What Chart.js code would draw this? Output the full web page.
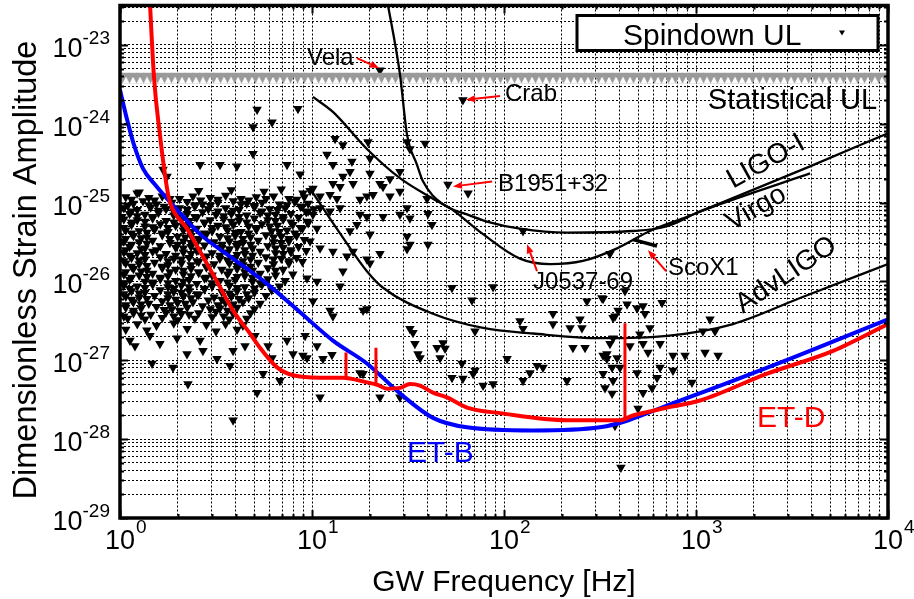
<!DOCTYPE html>
<html>
<head>
<meta charset="utf-8">
<script src="https://cdn.jsdelivr.net/npm/chart.js@4/dist/chart.umd.min.js"></script>
<style>
  html, body { margin: 0; background: #fff; }
</style>
</head>
<body>
<canvas id="chart" width="914" height="599"></canvas>
<script>
  // axis decades (log10) and the minor steps inside each decade
  const xDecades = [0, 1, 2, 3, 4]
  const yDecades = [-29, -28, -27, -26, -25, -24, -23]
  const minorSteps = [1, 2, 3, 4, 5, 6, 7, 8, 9]
  const xMin = 1, xMax = 1e4
  const yMin = 1e-29, yMax = 3.16e-23

  // curves as log10(f [Hz]) and log10(h)
  const etdLogF = [0.148, 0.177, 0.208, 0.245, 0.260, 0.349, 0.417, 0.505, 0.589, 0.677, 0.729, 0.818, 0.901, 1.042, 1.161, 1.286, 1.339, 1.391, 1.458, 1.510, 1.563, 1.630, 1.703, 1.807, 1.979, 2.328, 2.604, 2.672, 2.849, 3.021, 3.370, 3.714, 4.0]
  const etdLogH = [-22.08, -23.41, -24.14, -24.82, -24.99, -25.33, -25.62, -26.00, -26.37, -26.66, -26.84, -27.09, -27.19, -27.22, -27.22, -27.28, -27.31, -27.36, -27.35, -27.30, -27.32, -27.41, -27.47, -27.60, -27.67, -27.76, -27.76, -27.70, -27.60, -27.51, -27.17, -26.88, -26.54]
  const spikeLogF = [1.177, 1.333, 2.630]
  const spikeBaseLogH = [-27.22, -27.30, -27.76]
  const spikeTopLogH = [-26.90, -26.84, -26.53]

  const etbLogF = [0.0, 0.036, 0.068, 0.120, 0.182, 0.260, 0.417, 0.589, 0.766, 0.938, 1.109, 1.286, 1.458, 1.630, 1.807, 2.151, 2.500, 2.917, 3.438, 4.0]
  const etbLogH = [-23.57, -23.94, -24.23, -24.57, -24.77, -24.99, -25.40, -25.71, -26.03, -26.39, -26.75, -27.04, -27.42, -27.73, -27.85, -27.89, -27.85, -27.51, -27.03, -26.48]

  const ligoLogF = [1.390, 1.458, 1.495, 1.547, 1.578, 1.682, 1.807, 1.911, 2.083, 2.328, 2.672, 2.849, 3.021, 3.125, 3.594, 4.0]
  const ligoLogH = [-22.42, -23.37, -24.14, -24.52, -24.73, -25.02, -25.15, -25.24, -25.33, -25.38, -25.36, -25.30, -25.11, -25.01, -24.54, -24.12]

  const virgoLogF = [1.005, 1.109, 1.286, 1.458, 1.630, 1.719, 1.891, 2.083, 2.240, 2.411, 2.589, 2.760, 2.932, 3.125, 3.594]
  const virgoLogH = [-23.66, -23.85, -24.32, -24.69, -24.95, -25.07, -25.40, -25.71, -25.78, -25.74, -25.58, -25.36, -25.20, -25.02, -24.63]

  const advLogF = [1.0, 1.146, 1.286, 1.370, 1.630, 1.891, 2.151, 2.500, 2.849, 3.193, 3.542, 4.0]
  const advLogH = [-24.86, -25.39, -25.87, -26.08, -26.41, -26.59, -26.66, -26.72, -26.69, -26.54, -26.21, -25.78]

  const scoLogF = [2.672, 2.797]
  const scoLogH = [-25.47, -25.55]

  const statUL = 3.8e-24

  // spindown upper limits [log10 f, log10 h]
  const spinPts = [
    // dense cluster, 1-10 Hz
    [0.10, -24.87], [0.41, -24.85], [0.58, -24.84], [0.75, -24.86], [0.84, -24.83], [0.99, -24.85],
    [0.03, -24.93], [0.15, -24.94], [0.22, -24.92], [0.31, -24.95], [0.38, -24.92], [0.47, -24.94], [0.55, -24.91], [0.63, -24.95], [0.71, -24.93], [0.80, -24.92], [0.88, -24.95], [0.96, -24.93],
    [0.07, -25.01], [0.12, -24.98], [0.19, -25.02], [0.27, -25.00], [0.35, -24.99], [0.43, -25.02], [0.51, -25.00], [0.59, -24.98], [0.66, -25.01], [0.74, -25.00], [0.83, -25.02], [0.91, -24.99], [0.98, -25.01],
    [0.02, -25.07], [0.09, -25.09], [0.16, -25.06], [0.24, -25.08], [0.31, -25.07], [0.39, -25.05], [0.46, -25.08], [0.55, -25.07], [0.62, -25.09], [0.70, -25.06], [0.78, -25.08], [0.86, -25.07], [0.94, -25.05], [1.01, -25.08],
    [0.05, -25.14], [0.13, -25.15], [0.20, -25.13], [0.28, -25.16], [0.35, -25.14], [0.43, -25.12], [0.50, -25.15], [0.58, -25.14], [0.66, -25.16], [0.73, -25.13], [0.81, -25.15], [0.89, -25.14], [0.97, -25.12],
    [0.02, -25.21], [0.09, -25.22], [0.17, -25.20], [0.24, -25.23], [0.32, -25.21], [0.40, -25.19], [0.47, -25.22], [0.54, -25.21], [0.62, -25.23], [0.70, -25.20], [0.77, -25.22], [0.85, -25.21], [0.93, -25.19],
    [0.06, -25.28], [0.13, -25.30], [0.21, -25.27], [0.29, -25.29], [0.36, -25.28], [0.44, -25.26], [0.51, -25.29], [0.59, -25.28], [0.67, -25.30], [0.74, -25.27], [0.82, -25.29], [0.90, -25.28], [0.98, -25.26],
    [0.03, -25.35], [0.10, -25.36], [0.18, -25.34], [0.25, -25.37], [0.33, -25.35], [0.40, -25.33], [0.48, -25.36], [0.56, -25.35], [0.63, -25.37], [0.71, -25.34], [0.79, -25.36], [0.87, -25.35], [0.95, -25.33],
    [0.07, -25.42], [0.14, -25.44], [0.22, -25.41], [0.30, -25.43], [0.37, -25.42], [0.45, -25.40], [0.52, -25.43], [0.60, -25.42], [0.68, -25.44], [0.76, -25.41], [0.84, -25.43], [0.92, -25.42],
    [0.02, -25.49], [0.10, -25.50], [0.17, -25.48], [0.26, -25.51], [0.33, -25.49], [0.41, -25.47], [0.49, -25.50], [0.57, -25.49], [0.64, -25.51], [0.72, -25.48], [0.80, -25.50], [0.88, -25.49], [0.96, -25.47],
    [0.05, -25.56], [0.13, -25.58], [0.21, -25.55], [0.29, -25.57], [0.37, -25.56], [0.44, -25.54], [0.53, -25.57], [0.61, -25.56], [0.69, -25.58], [0.77, -25.55], [0.85, -25.57], [0.93, -25.56],
    [0.02, -25.63], [0.09, -25.64], [0.17, -25.62], [0.24, -25.65], [0.33, -25.63], [0.40, -25.61], [0.48, -25.64], [0.56, -25.63], [0.65, -25.65], [0.73, -25.62], [0.81, -25.64], [0.89, -25.63], [0.97, -25.61],
    [0.06, -25.70], [0.13, -25.72], [0.21, -25.69], [0.28, -25.71], [0.36, -25.70], [0.45, -25.68], [0.52, -25.71], [0.60, -25.70], [0.68, -25.72], [0.76, -25.69], [0.84, -25.71], [0.92, -25.70],
    [0.03, -25.77], [0.10, -25.78], [0.18, -25.76], [0.25, -25.79], [0.32, -25.77], [0.41, -25.75], [0.49, -25.78], [0.57, -25.77], [0.64, -25.79], [0.72, -25.76], [0.80, -25.78], [0.88, -25.77], [0.95, -25.75],
    [0.07, -25.84], [0.14, -25.86], [0.22, -25.83], [0.29, -25.85], [0.37, -25.84], [0.45, -25.82], [0.53, -25.85], [0.61, -25.84], [0.69, -25.86], [0.77, -25.83], [0.85, -25.85],
    [0.02, -25.91], [0.10, -25.92], [0.17, -25.90], [0.25, -25.93], [0.33, -25.91], [0.41, -25.89], [0.48, -25.92], [0.56, -25.91], [0.65, -25.93], [0.73, -25.90], [0.81, -25.92], [0.90, -25.91],
    [0.05, -25.98], [0.13, -26.00], [0.21, -25.97], [0.29, -25.99], [0.36, -25.98], [0.44, -25.96], [0.52, -25.99], [0.60, -25.98], [0.69, -26.00], [0.77, -25.97], [0.86, -25.99],
    [0.02, -26.05], [0.09, -26.06], [0.17, -26.04], [0.25, -26.07], [0.32, -26.05], [0.40, -26.03], [0.48, -26.06], [0.57, -26.05], [0.65, -26.07], [0.74, -26.04], [0.83, -26.06],
    [0.06, -26.12], [0.13, -26.14], [0.21, -26.11], [0.28, -26.13], [0.36, -26.12], [0.44, -26.10], [0.53, -26.13], [0.61, -26.12], [0.70, -26.14], [0.79, -26.11],
    [0.03, -26.19], [0.10, -26.20], [0.18, -26.18], [0.25, -26.21], [0.33, -26.19], [0.41, -26.17], [0.49, -26.20], [0.58, -26.19], [0.67, -26.21], [0.76, -26.18],
    [0.07, -26.26], [0.15, -26.28], [0.22, -26.25], [0.30, -26.27], [0.38, -26.26], [0.46, -26.24], [0.55, -26.27], [0.64, -26.26], [0.73, -26.28],
    [0.03, -26.33], [0.11, -26.34], [0.19, -26.32], [0.27, -26.35], [0.35, -26.33], [0.43, -26.31], [0.52, -26.34], [0.61, -26.33], [0.70, -26.35],
    [0.07, -26.40], [0.16, -26.42], [0.24, -26.39], [0.32, -26.41], [0.41, -26.40], [0.50, -26.38], [0.59, -26.41], [0.68, -26.40],
    [0.04, -26.47], [0.13, -26.48], [0.22, -26.46], [0.30, -26.49], [0.39, -26.47], [0.48, -26.45], [0.57, -26.48], [0.66, -26.47],
    [0.09, -26.54], [0.19, -26.56], [0.28, -26.53], [0.45, -26.55], [0.55, -26.54], [0.64, -26.56],
    [0.03, -26.61], [0.14, -26.62], [0.35, -26.60], [0.50, -26.63], [0.61, -26.61],
    // cluster, in-between points
    [0.06, -24.96], [0.18, -24.97], [0.26, -24.95], [0.42, -24.97], [0.51, -24.96], [0.67, -24.97], [0.76, -24.95], [0.92, -24.96],
    [0.04, -25.04], [0.15, -25.03], [0.23, -25.05], [0.39, -25.03], [0.47, -25.04], [0.63, -25.02], [0.70, -25.04], [0.87, -25.03], [0.95, -25.05],
    [0.06, -25.11], [0.20, -25.10], [0.28, -25.11], [0.35, -25.09], [0.51, -25.11], [0.59, -25.10], [0.74, -25.11], [0.82, -25.09], [0.98, -25.11],
    [0.01, -25.18], [0.09, -25.17], [0.17, -25.18], [0.31, -25.16], [0.39, -25.18], [0.54, -25.17], [0.62, -25.18], [0.77, -25.16], [0.85, -25.18],
    [0.06, -25.25], [0.13, -25.24], [0.28, -25.25], [0.36, -25.23], [0.44, -25.25], [0.58, -25.24], [0.66, -25.25], [0.81, -25.23], [0.89, -25.25],
    [0.02, -25.32], [0.17, -25.31], [0.25, -25.32], [0.33, -25.30], [0.48, -25.32], [0.55, -25.31], [0.71, -25.32], [0.78, -25.30], [0.94, -25.32],
    [0.06, -25.39], [0.14, -25.38], [0.22, -25.39], [0.37, -25.37], [0.44, -25.39], [0.60, -25.38], [0.67, -25.39], [0.83, -25.37], [0.91, -25.39],
    [0.03, -25.46], [0.11, -25.45], [0.26, -25.46], [0.34, -25.44], [0.41, -25.46], [0.56, -25.45], [0.64, -25.46], [0.80, -25.44], [0.88, -25.46],
    [0.06, -25.53], [0.14, -25.52], [0.30, -25.53], [0.37, -25.51], [0.53, -25.53], [0.61, -25.52], [0.68, -25.53], [0.84, -25.51],
    [0.03, -25.60], [0.11, -25.59], [0.19, -25.60], [0.33, -25.58], [0.41, -25.60], [0.57, -25.59], [0.65, -25.60], [0.81, -25.58], [0.89, -25.60],
    [0.05, -25.67], [0.13, -25.66], [0.29, -25.67], [0.37, -25.65], [0.52, -25.67], [0.61, -25.66], [0.69, -25.67], [0.85, -25.65],
    [0.02, -25.74], [0.10, -25.73], [0.25, -25.74], [0.32, -25.72], [0.40, -25.74], [0.56, -25.73], [0.64, -25.74], [0.80, -25.72], [0.88, -25.74],
    [0.06, -25.81], [0.14, -25.80], [0.22, -25.81], [0.37, -25.79], [0.45, -25.81], [0.61, -25.80], [0.68, -25.81],
    [0.03, -25.88], [0.11, -25.87], [0.26, -25.88], [0.33, -25.86], [0.41, -25.88], [0.57, -25.87], [0.65, -25.88], [0.81, -25.86],
    [0.06, -25.95], [0.14, -25.94], [0.21, -25.95], [0.37, -25.93], [0.45, -25.95], [0.61, -25.94], [0.69, -25.95],
    [0.02, -26.02], [0.17, -26.01], [0.25, -26.02], [0.33, -26.00], [0.48, -26.02], [0.56, -26.01], [0.73, -26.02],
    [0.05, -26.09], [0.13, -26.08], [0.28, -26.09], [0.36, -26.07], [0.44, -26.09], [0.61, -26.08], [0.70, -26.09],
    [0.02, -26.16], [0.10, -26.15], [0.25, -26.16], [0.32, -26.14], [0.40, -26.16], [0.57, -26.15], [0.66, -26.16],
    [0.06, -26.23], [0.14, -26.22], [0.29, -26.23], [0.37, -26.21], [0.53, -26.23], [0.62, -26.22],
    [0.03, -26.30], [0.11, -26.29], [0.26, -26.30], [0.34, -26.28], [0.51, -26.30], [0.59, -26.29],
    [0.07, -26.37], [0.23, -26.36], [0.31, -26.37], [0.47, -26.35], [0.56, -26.37],
    [0.02, -26.44], [0.11, -26.43], [0.28, -26.44], [0.36, -26.42], [0.54, -26.44],
    // below the cluster
    [0.078, -26.82], [0.167, -27.04], [0.276, -27.09], [0.354, -27.30], [0.714, -27.41], [0.505, -26.98], [0.589, -26.88], [0.792, -26.97],
    [0.901, -26.92], [0.870, -26.75], [1.026, -26.82], [0.745, -27.17], [0.432, -26.88], [0.349, -26.92], [0.208, -26.79], [0.297, -26.72],
    [0.052, -26.75], [0.156, -26.69], [0.417, -26.75], [0.651, -26.82], [0.573, -27.07], [0.833, -27.26], [0.703, -26.69], [0.771, -26.82],
    [0.589, -27.76],
    // above the cluster
    [1.354, -23.32], [1.786, -23.70], [1.708, -24.77], [2.099, -25.36],
    [0.714, -23.82], [0.693, -24.04], [0.792, -23.98], [0.927, -23.81], [0.693, -24.38], [0.417, -24.52], [0.521, -24.52], [0.609, -24.54],
    [0.870, -24.52], [0.938, -24.64], [0.089, -24.88], [0.224, -24.58], [0.245, -24.67],
    // 10-100 Hz
    [1.120, -24.19], [1.161, -24.27], [1.292, -24.23], [1.495, -24.23], [1.589, -24.25], [1.510, -24.32], [1.078, -24.39], [1.208, -24.48],
    [1.302, -24.44], [1.109, -24.52], [1.198, -24.61], [1.161, -24.67], [1.302, -24.63], [1.458, -24.61], [1.406, -24.70], [1.813, -24.88],
    [0.953, -24.88], [1.005, -24.82], [1.109, -24.76], [1.146, -24.80], [1.214, -24.76], [1.354, -24.76], [1.370, -24.80], [1.318, -24.90],
    [1.286, -24.92], [1.458, -24.86], [1.599, -24.95], [1.250, -24.96], [1.406, -24.92], [1.042, -24.92], [1.094, -24.90], [1.130, -24.95],
    [1.146, -25.07], [1.042, -25.07], [1.286, -25.18], [1.370, -25.18], [1.458, -25.15], [1.495, -25.07], [1.604, -25.14], [1.625, -25.28],
    [1.510, -25.20], [1.198, -25.36], [1.234, -25.28], [1.302, -25.40], [1.495, -25.43], [1.510, -25.53], [1.604, -25.53], [1.495, -25.59],
    [1.354, -25.65], [1.286, -25.72], [1.302, -25.77], [1.182, -25.68], [1.214, -25.62], [1.109, -25.62], [1.042, -25.58], [0.990, -25.49],
    [1.026, -25.33], [0.974, -25.24], [1.005, -25.15], [1.094, -25.11], [1.250, -25.15], [1.161, -25.87], [1.146, -26.06], [1.026, -26.00],
    [0.974, -25.96], [1.005, -26.25], [1.094, -26.37], [1.109, -26.44], [1.266, -26.37], [1.286, -26.35], [0.964, -26.69], [0.953, -26.94],
    [0.974, -26.97], [1.057, -26.98], [1.104, -26.93], [1.250, -27.16], [1.266, -27.17], [1.042, -27.47], [1.354, -27.47], [1.458, -27.47],
    [1.729, -26.08], [1.943, -26.07], [1.833, -26.24], [1.510, -26.60], [1.526, -26.65], [1.536, -26.79], [1.552, -26.92], [1.563, -26.97],
    [1.651, -26.84], [1.682, -26.78], [1.693, -26.85], [1.667, -26.97], [1.781, -27.04], [1.849, -26.63], [1.849, -27.13], [1.839, -27.17],
    [1.729, -27.22], [1.786, -27.23], [1.891, -27.32], [1.943, -27.30],
    // 100 Hz - 1 kHz
    [2.016, -26.98], [2.083, -26.50], [2.099, -26.60], [2.099, -27.26], [2.172, -27.07], [2.203, -27.09], [2.135, -27.16], [2.255, -26.41],
    [2.255, -26.54], [2.328, -27.26], [2.344, -26.59], [2.396, -26.48], [2.406, -26.59], [2.432, -26.25], [2.516, -26.22], [2.359, -26.84],
    [2.422, -26.84], [2.516, -26.94], [2.536, -26.98], [2.563, -27.09], [2.578, -26.44], [2.568, -26.72], [2.552, -26.79], [2.526, -27.35],
    [2.563, -27.42], [2.552, -25.65], [2.510, -26.21], [2.568, -26.46], [2.594, -26.37], [2.630, -26.12], [2.641, -26.29], [2.693, -26.34],
    [2.724, -26.31], [2.823, -26.27], [2.734, -26.41], [2.760, -26.59], [2.708, -26.67], [2.724, -26.79], [2.656, -26.82], [2.750, -26.90],
    [2.813, -26.79], [2.813, -27.09], [2.797, -27.22], [2.771, -27.35], [2.724, -27.41], [2.589, -26.97], [2.604, -27.09], [2.536, -26.92],
    [2.516, -27.17], [2.568, -27.26], [2.693, -27.16], [2.880, -26.94], [2.943, -26.94], [2.880, -27.13], [2.979, -27.28], [3.047, -26.90],
    [3.115, -26.94], [3.073, -26.48], [3.099, -26.63], [3.036, -26.63], [2.698, -27.61], [2.578, -27.83], [2.609, -28.36]
  ]

  // text notes placed in data coordinates (log10 f, log10 h)
  const notes = [
    { text: "Vela", lf: 0.974, lh: -23.255, size: 24 },
    { text: "Crab", lf: 2.005, lh: -23.710, size: 24 },
    { text: "B1951+32", lf: 1.969, lh: -24.859, size: 24 },
    { text: "J0537-69", lf: 2.151, lh: -26.096, size: 24 },
    { text: "ScoX1", lf: 2.854, lh: -25.920, size: 24 },
    { text: "Statistical UL", lf: 3.943, lh: -23.811, size: 29, align: "right" },
    { text: "ET-B", lf: 1.495, lh: -28.293, size: 30, color: "#0000ff" },
    { text: "ET-D", lf: 3.318, lh: -27.851, size: 30, color: "#ff0000" },
    { text: "LIGO-I", lf: 3.365, lh: -24.480, size: 28, align: "center", base: "middle", rot: -29 },
    { text: "Virgo", lf: 3.313, lh: -25.074, size: 28, align: "center", base: "middle", rot: -30 },
    { text: "AdvLIGO", lf: 3.47, lh: -25.92, size: 28, align: "center", base: "middle", rot: -34 }
  ]
  const arrows = [
    [1.234, -23.167, 1.349, -23.293],
    [1.979, -23.647, 1.802, -23.697],
    [1.938, -24.733, 1.734, -24.796],
    [2.172, -25.869, 2.120, -25.528],
    [2.844, -25.869, 2.750, -25.604]
  ]

  const FONT = '"Liberation Sans", Arial, sans-serif'
  const toPts = (lf, lh) => lf.map((f, i) => ({ x: 10 ** f, y: 10 ** lh[i] }))

  const canvas = document.getElementById("chart")
  const ctx = canvas.getContext("2d")

  // gray saw-tooth band for the statistical upper limit
  const tile = document.createElement("canvas")
  tile.width = 7
  tile.height = 11
  const tc = tile.getContext("2d")
  tc.fillStyle = "#9a9a9a"
  tc.fillRect(0, 0, 7, 4)
  tc.beginPath()
  tc.moveTo(0, 4)
  tc.lineTo(7, 4)
  tc.lineTo(3.5, 11)
  tc.closePath()
  tc.fill()
  const statPattern = ctx.createPattern(tile, "repeat")

  function txt(c, s, x, y, size, o = {}) {
    c.save()
    c.font = size + "px " + FONT
    c.fillStyle = o.color || "#000"
    c.textAlign = o.align || "left"
    c.textBaseline = o.base || "alphabetic"
    c.translate(x, y)
    if (o.rot) c.rotate((o.rot * Math.PI) / 180)
    c.fillText(s, 0, 0)
    c.restore()
  }

  const isMajor = (v) => Math.abs(Math.log10(v) - Math.round(Math.log10(v))) < 1e-6

  const decor = {
    id: "decor",
    beforeDatasetsDraw(chart) {
      const yPix = chart.scales.y.getPixelForValue(statUL)
      statPattern.setTransform(new DOMMatrix([1, 0, 0, 1, 0, yPix - 5.5]))
    },
    afterDatasetsDraw(chart) {
      const c = chart.ctx
      const a = chart.chartArea
      const sx = chart.scales.x
      const sy = chart.scales.y
      const px = (lf) => sx.getPixelForValue(10 ** lf)
      const py = (lh) => sy.getPixelForValue(10 ** lh)

      // arrows
      c.save()
      c.strokeStyle = "#ff0000"
      c.fillStyle = "#ff0000"
      c.lineWidth = 2
      arrows.forEach(([f0, h0, f1, h1]) => {
        const x0 = px(f0), y0 = py(h0), x1 = px(f1), y1 = py(h1)
        const ang = Math.atan2(y1 - y0, x1 - x0)
        const bx = x1 - 9 * Math.cos(ang), by = y1 - 9 * Math.sin(ang)
        c.beginPath()
        c.moveTo(x0, y0)
        c.lineTo(bx, by)
        c.stroke()
        c.beginPath()
        c.moveTo(x1, y1)
        c.lineTo(bx + 3.5 * Math.sin(ang), by - 3.5 * Math.cos(ang))
        c.lineTo(bx - 3.5 * Math.sin(ang), by + 3.5 * Math.cos(ang))
        c.closePath()
        c.fill()
      })
      c.restore()

      notes.forEach((n) => {
        txt(c, n.text, px(n.lf), py(n.lh), n.size, { align: n.align, base: n.base, rot: n.rot, color: n.color })
      })

      // frame with inward ticks
      c.save()
      c.strokeStyle = "#000"
      c.lineWidth = 2
      sx.ticks.forEach((t) => {
        const x = Math.round(sx.getPixelForValue(t.value)) + 0.5
        const len = isMajor(t.value) ? 8 : 4
        c.beginPath()
        c.moveTo(x, a.bottom)
        c.lineTo(x, a.bottom - len)
        c.moveTo(x, a.top)
        c.lineTo(x, a.top + len)
        c.stroke()
      })
      sy.ticks.forEach((t) => {
        const y = Math.round(sy.getPixelForValue(t.value)) + 0.5
        const len = isMajor(t.value) ? 8 : 4
        c.beginPath()
        c.moveTo(a.left, y)
        c.lineTo(a.left + len, y)
        c.moveTo(a.right, y)
        c.lineTo(a.right - len, y)
        c.stroke()
      })
      c.lineWidth = 3.5
      c.strokeRect(a.left, a.top, a.right - a.left, a.bottom - a.top)
      c.restore()

      // legend box
      const lx = a.right - 311, ly = a.top + 10
      c.save()
      c.fillStyle = "#fff"
      c.fillRect(lx, ly, 301, 35)
      c.strokeStyle = "#000"
      c.lineWidth = 3
      c.strokeRect(lx, ly, 301, 35)
      c.fillStyle = "#000"
      c.beginPath()
      c.moveTo(lx + 262, ly + 15)
      c.lineTo(lx + 268, ly + 15)
      c.lineTo(lx + 265, ly + 20)
      c.closePath()
      c.fill()
      c.restore()
      txt(c, "Spindown UL", lx + 46, ly + 29, 30)

      // tick labels as 10^n
      c.save()
      xDecades.forEach((e) => {
        const x = sx.getPixelForValue(10 ** e)
        c.font = "27px " + FONT
        const w = c.measureText("10").width
        txt(c, "10", x - w / 2, a.bottom + 31, 27)
        txt(c, String(e), x + w / 2 + 1, a.bottom + 15, 19)
      })
      yDecades.forEach((e) => {
        const y = sy.getPixelForValue(10 ** e)
        c.font = "19px " + FONT
        const ew = c.measureText(String(e)).width
        txt(c, String(e), a.left - 10, y - 1, 19, { align: "right" })
        txt(c, "10", a.left - 10 - ew, y + 12, 27, { align: "right" })
      })
      c.restore()

      txt(c, "GW Frequency [Hz]", (a.left + a.right) / 2, 591, 30, { align: "center" })
      txt(c, "Dimensionless Strain Amplitude", 36, 270, 32.5, { align: "center", rot: -90 })
    }
  }

  const logTicks = (decades, max) => (scale) => {
    const vals = []
    decades.forEach((d) => minorSteps.forEach((m) => {
      const v = m * 10 ** d
      if (v <= max * 1.0001) vals.push({ value: v })
    }))
    scale.ticks = vals
  }

  const line = (label, lf, lh, color, width) => ({
    label: label,
    data: toPts(lf, lh),
    borderColor: color,
    borderWidth: width,
    pointRadius: 0,
    cubicInterpolationMode: "monotone",
    fill: false
  })

  const spikes = spikeLogF.map((f, i) => ({
    label: "ET-D line " + (i + 1),
    data: toPts([f, f], [spikeBaseLogH[i], spikeTopLogH[i]]),
    borderColor: "#ff0000",
    borderWidth: 3,
    pointRadius: 0,
    tension: 0
  }))

  new Chart(ctx, {
    type: "line",
    data: {
      datasets: [
        line("ET-D", etdLogF, etdLogH, "#ff0000", 4),
        ...spikes,
        line("ET-B", etbLogF, etbLogH, "#0000ff", 4),
        line("ScoX1", scoLogF, scoLogH, "#000", 3.5),
        line("LIGO-I", ligoLogF, ligoLogH, "#000", 2.3),
        line("Virgo", virgoLogF, virgoLogH, "#000", 2.3),
        line("AdvLIGO", advLogF, advLogH, "#000", 2.3),
        {
          label: "Statistical UL",
          data: [{ x: xMin, y: statUL }, { x: xMax, y: statUL }],
          borderColor: statPattern,
          borderWidth: 11,
          borderCapStyle: "butt",
          pointRadius: 0,
          tension: 0
        },
        {
          label: "Spindown UL",
          data: spinPts.map(([f, h]) => ({ x: 10 ** f, y: 10 ** h })),
          showLine: false,
          pointStyle: "triangle",
          pointRotation: 180,
          pointRadius: 5.5,
          pointBorderWidth: 0,
          pointBackgroundColor: "#000",
          borderColor: "#000"
        }
      ]
    },
    options: {
      responsive: false,
      animation: false,
      events: [],
      layout: { padding: { left: 120, right: 26, top: 3, bottom: 81 } },
      scales: {
        x: {
          type: "logarithmic",
          min: xMin,
          max: xMax,
          afterBuildTicks: logTicks(xDecades, xMax),
          ticks: { display: false, autoSkip: false },
          grid: { color: "#000", lineWidth: 1, drawTicks: false, tickLength: 0 },
          border: { display: false, dash: [2, 2] }
        },
        y: {
          type: "logarithmic",
          min: yMin,
          max: yMax,
          afterBuildTicks: logTicks(yDecades, yMax),
          ticks: { display: false, autoSkip: false },
          grid: { color: "#000", lineWidth: 1, drawTicks: false, tickLength: 0 },
          border: { display: false, dash: [2, 2] }
        }
      },
      plugins: {
        legend: { display: false },
        tooltip: { enabled: false }
      }
    },
    plugins: [decor]
  })
</script>
</body>
</html>
